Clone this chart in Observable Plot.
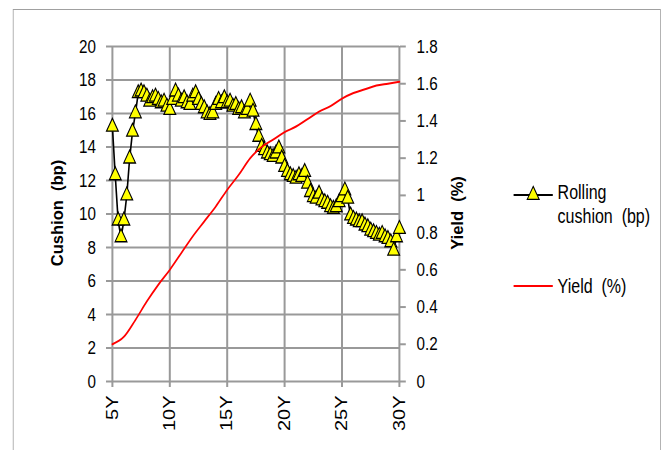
<!DOCTYPE html>
<html>
<head>
<meta charset="utf-8">
<script src="https://cdn.jsdelivr.net/npm/d3@7"></script>
<script src="https://cdn.jsdelivr.net/npm/@observablehq/plot@0.6"></script>
<style>
  html, body { margin: 0; padding: 0; background: #fff; overflow: hidden; }
  #wrap { position: relative; width: 836px; height: 450px; transform: scaleX(0.8); transform-origin: 0 0;
          font-family: "Liberation Sans", Arial, sans-serif; color: #000; }
  #frame { position: absolute; left: 16px; top: 9px; width: 810px; height: 480px; border: 1.5px solid #a0a0a0; box-sizing: border-box; }
  #chart { position: absolute; left: 0; top: 0; }
  .ytitle { position: absolute; font-weight: bold; font-size: 16.5px; white-space: pre; line-height: 1;
            transform: translate(-50%, -50%) scale(1.25, 1) rotate(-90deg); }
  .legtext { position: absolute; font-size: 20px; line-height: 24px; white-space: pre; }
  .legsw { position: absolute; overflow: visible; }
</style>
</head>
<body>
<div id="wrap">
  <div id="frame"></div>
  <div id="chart"></div>
  <div class="ytitle" style="left:72px; top:213px;">Cushion  (bp)</div>
  <div class="ytitle" style="left:572px; top:213px;">Yield  (%)</div>
  <svg class="legsw" id="sw1" style="left:642px; top:185px;" width="50" height="20"></svg>
  <div class="legtext" style="left:697px; top:180px;">Rolling
cushion  (bp)</div>
  <svg class="legsw" id="sw2" style="left:642px; top:276px;" width="50" height="20"></svg>
  <div class="legtext" style="left:697px; top:274px;">Yield  (%)</div>
</div>
<script>
// ---- data ----
const cushionTenor = [5,5.25,5.5,5.75,6,6.25,6.5,6.75,7,7.25,7.5,7.75,8,8.25,8.5,8.75,9,9.25,9.5,9.75,
  10,10.25,10.5,10.75,11,11.25,11.5,11.75,12,12.25,12.5,12.75,13,13.25,13.5,13.75,14,14.25,14.5,14.75,
  15,15.25,15.5,15.75,16,16.25,16.5,16.75,17,17.25,17.5,17.75,18,18.25,18.5,18.75,19,19.25,19.5,19.75,
  20,20.25,20.5,20.75,21,21.25,21.5,21.75,22,22.25,22.5,22.75,23,23.25,23.5,23.75,24,24.25,24.5,24.75,
  25,25.25,25.5,25.75,26,26.25,26.5,26.75,27,27.25,27.5,27.75,28,28.25,28.5,28.75,29,29.25,29.5,29.75,30];
const cushionBp = [15.2,12.3,9.6,8.6,9.6,11.1,13.3,14.9,16.0,
  17.2,17.3,17.2,17.0,16.7,16.9,17.0,16.8,16.6,16.7,16.4,
  16.2,16.8,17.3,17.0,16.7,16.9,16.6,16.5,17.0,17.2,
  16.8,16.5,16.3,16.0,15.9,16.0,16.5,16.8,16.6,16.9,
  16.6,16.7,16.4,16.5,16.2,16.3,16.0,16.2,16.7,16.1,
  15.3,14.6,14.0,13.8,13.6,13.5,13.4,13.6,13.9,13.3,
  12.8,12.5,12.3,12.2,12.1,12.3,12.2,12.5,11.8,11.3,
  11.0,10.9,11.2,10.8,10.7,10.6,10.4,10.3,10.4,10.7,
  11.0,11.4,10.9,9.9,9.7,9.6,9.5,9.5,9.3,9.2,
  9.0,8.9,8.8,8.7,8.8,8.6,8.5,8.3,7.8,8.6,
  9.1];
const yieldTenor = [5,6,7,8,9,10,11,12,13,14,15,16,17,18,19,20,21,22,23,24,25,26,27,28,29,30];
const yieldPct = [0.20,0.24,0.33,0.43,0.52,0.60,0.69,0.78,0.86,0.94,1.03,1.11,1.20,1.26,1.30,1.34,1.37,1.41,1.45,1.48,1.52,1.55,1.57,1.59,1.60,1.61];
const xTickValues = [5,10,15,20,25,30];
const xTickLabels = ["5Y","10Y","15Y","20Y","25Y","30Y"];
const cushionTicks = [0,2,4,6,8,10,12,14,16,18,20];
const yieldTicks = [0,0.2,0.4,0.6,0.8,1.0,1.2,1.4,1.6,1.8];
const yieldTickLabels = ["0","0.2","0.4","0.6","0.8","1","1.2","1.4","1.6","1.8"];

// ---- build ----
const cushionMax = 20, yieldMax = 1.8, k = cushionMax / yieldMax;
const cushion = cushionTenor.map((t, i) => ({t, v: cushionBp[i]}));
const yld = yieldTenor.map((t, i) => ({t, v: yieldPct[i] * k}));
const yTicksScaled = yieldTicks.map(d => d * k);
const grid = "#999";
const W = 836, H = 450;

const chart = Plot.plot({
  width: W, height: H,
  marginLeft: 140, marginRight: W - 498.75, marginTop: 46, marginBottom: 69,
  x: {domain: [5, 30]},
  y: {domain: [0, cushionMax]},
  style: {fontFamily: '"Liberation Sans", Arial, sans-serif', color: "#000", background: "transparent", overflow: "visible"},
  marks: [
    Plot.gridX(xTickValues, {stroke: grid, strokeOpacity: 1, strokeWidth: 2.5}),
    Plot.gridY(cushionTicks, {stroke: grid, strokeOpacity: 1, strokeWidth: 2}),
    Plot.axisY(cushionTicks, {anchor: "left", tickSize: 7.5, tickPadding: 13, stroke: grid, strokeWidth: 2, fill: "#000", fontSize: 19, label: null}),
    Plot.axisY(yTicksScaled, {anchor: "right", tickSize: 7.5, tickPadding: 14, stroke: grid, strokeWidth: 2, fill: "#000", fontSize: 19, label: null,
      tickFormat: d => yieldTickLabels[yTicksScaled.indexOf(d)]}),
    Plot.axisX(xTickValues, {anchor: "bottom", tickSize: 6, tickPadding: 8, tickRotate: -90, stroke: grid, strokeWidth: 2.5, fill: "#000", fontSize: 20, label: null,
      tickFormat: d => xTickLabels[xTickValues.indexOf(d)]}),
    Plot.line(cushion, {x: "t", y: "v", stroke: "#000", strokeWidth: 2}),
    Plot.dot(cushion, {x: "t", y: "v", symbol: "triangle", r: 5.5, fill: "#ffff00", stroke: "#000", strokeWidth: 1.3}),
    Plot.line(yld, {x: "t", y: "v", stroke: "#ff0000", strokeWidth: 2, curve: "monotone-x"})
  ]
});
document.getElementById("chart").appendChild(chart);

// legend swatches
const tri = d3.symbol(d3.symbolTriangle, Math.PI * 5.5 * 5.5)();
const s1 = d3.select("#sw1");
s1.append("line").attr("x1", 0).attr("x2", 49).attr("y1", 10).attr("y2", 10).attr("stroke", "#000").attr("stroke-width", 2);
s1.append("path").attr("d", tri).attr("transform", "translate(24.5,10)").attr("fill", "#ffff00").attr("stroke", "#000").attr("stroke-width", 1.3);
const s2 = d3.select("#sw2");
s2.append("line").attr("x1", 0).attr("x2", 49).attr("y1", 10).attr("y2", 10).attr("stroke", "#ff0000").attr("stroke-width", 2);
</script>
</body>
</html>
